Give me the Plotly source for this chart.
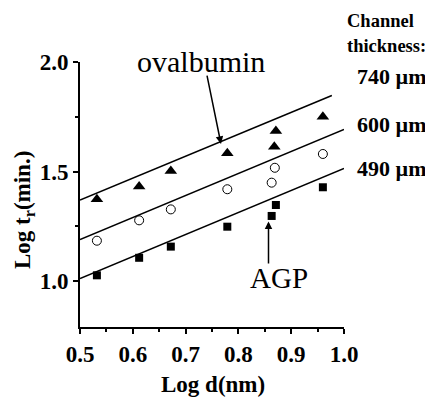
import numpy as np
import plotly.graph_objects as go

# Data
x_tri = [0.532, 0.612, 0.672, 0.779, 0.868, 0.871, 0.960]
y_tri = [1.373, 1.431, 1.502, 1.583, 1.613, 1.685, 1.750]
x_circ = [0.532, 0.612, 0.672, 0.779, 0.863, 0.869, 0.960]
y_circ = [1.184, 1.277, 1.327, 1.419, 1.449, 1.517, 1.580]
x_sq = [0.532, 0.612, 0.672, 0.779, 0.863, 0.871, 0.960]
y_sq = [1.026, 1.106, 1.157, 1.248, 1.297, 1.347, 1.428]

# Linear fits: slope, intercept, x-extent
fit_slopes = [1.000, 1.005, 1.005]
fit_intercepts = [0.870, 0.687, 0.509]
fit_xstart = [0.5, 0.5, 0.5]
fit_xend = [0.977, 1.0, 1.0]

thickness_labels = ["740 µm", "600 µm", "490 µm"]
x_ticks = [0.5, 0.6, 0.7, 0.8, 0.9, 1.0]
x_ticklabels = ["0.5", "0.6", "0.7", "0.8", "0.9", "1.0"]
y_ticks = [1.0, 1.5, 2.0]
y_ticklabels = ["1.0", "1.5", "2.0"]

SERIF = "Liberation Serif, Times New Roman, serif"

fig = go.Figure()

for s, b, x0, x1 in zip(fit_slopes, fit_intercepts, fit_xstart, fit_xend):
    xs = [x0, x1]
    ys = [s * v + b for v in xs]
    fig.add_trace(go.Scatter(x=xs, y=ys, mode="lines",
                             line=dict(color="black", width=1.5),
                             showlegend=False, hoverinfo="skip", cliponaxis=False))

fig.add_trace(go.Scatter(x=x_tri, y=y_tri, mode="markers",
                         marker=dict(symbol="triangle-up", size=11, color="black"),
                         showlegend=False))
fig.add_trace(go.Scatter(x=x_circ, y=y_circ, mode="markers",
                         marker=dict(symbol="circle-open", size=9, color="black",
                                     line=dict(width=1)),
                         showlegend=False))
fig.add_trace(go.Scatter(x=x_sq, y=y_sq, mode="markers",
                         marker=dict(symbol="square", size=8, color="black"),
                         showlegend=False))

axis_common = dict(
    showline=True, linecolor="black", linewidth=2,
    ticks="outside", ticklen=5, tickwidth=2, tickcolor="black",
    showgrid=False, zeroline=False, automargin=False,
    tickfont=dict(family=SERIF, size=23, color="black", weight="bold"),
)

fig.update_xaxes(range=[0.5, 1.0], tickvals=x_ticks, ticktext=x_ticklabels,
                 minor=dict(dtick=0.05, ticks="outside", ticklen=3, tickwidth=1.5,
                            tickcolor="black"),
                 **axis_common)
fig.update_yaxes(range=[0.79, 2.0], tickvals=y_ticks, ticktext=y_ticklabels,
                 minor=dict(tick0=0.75, dtick=0.25, ticks="outside", ticklen=3,
                            tickwidth=1.5, tickcolor="black"),
                 **axis_common)

annotations = []
# ovalbumin arrow
annotations.append(dict(x=0.767, y=1.626, ax=0.740, ay=1.945, xref="x", yref="y",
                        axref="x", ayref="y", showarrow=True, arrowhead=2,
                        arrowsize=1, arrowwidth=1.5, arrowcolor="black", text="",
                        font=dict(size=12)))
# AGP arrow
annotations.append(dict(x=0.857, y=1.272, ax=0.857, ay=1.073, xref="x", yref="y",
                        axref="x", ayref="y", showarrow=True, arrowhead=2,
                        arrowsize=1, arrowwidth=1.5, arrowcolor="black", text="",
                        font=dict(size=12)))

# Text labels placed by window pixel centre: (text, x, y, anchor, size, bold, angle)
labels = [
    ("ovalbumin", 201, 61, "center", 30, False, 0),
    ("AGP", 279, 278, "center", 29, False, 0),
    ("Channel", 345, 21, "left", 18.5, True, 0),
    ("thickness:", 345, 46, "left", 18.5, True, 0),
    ("Log d(nm)", 213, 384, "center", 23, True, 0),
    ("Log t<sub>r</sub>(min.)", 24, 210, "center", 23, True, -90),
]
label_y = [76, 125, 168]
for lab, py in zip(thickness_labels, label_y):
    labels.append((lab, 355, py, "left", 22, True, 0))

OFF = 8  # default body margin of the page
W, H = 433 - OFF, 397 - OFF
ML, MR, MT, MB = 80 - OFF, 89, 62 - OFF, 70
pw, ph = W - ML - MR, H - MT - MB
for text, px, py, anc, size, bold, ang in labels:
    annotations.append(dict(
        x=(px - OFF - ML) / pw, y=1 - (py - OFF - MT) / ph,
        xref="paper", yref="paper", text=text, showarrow=False,
        xanchor=anc, yanchor="middle", textangle=ang,
        font=dict(family=SERIF, size=size, color="black",
                  weight="bold" if bold else "normal"),
    ))

fig.update_layout(
    width=W, height=H,
    margin=dict(l=ML, r=MR, t=MT, b=MB),
    paper_bgcolor="white", plot_bgcolor="white",
    annotations=annotations,
)

fig.write_html("out.html")
